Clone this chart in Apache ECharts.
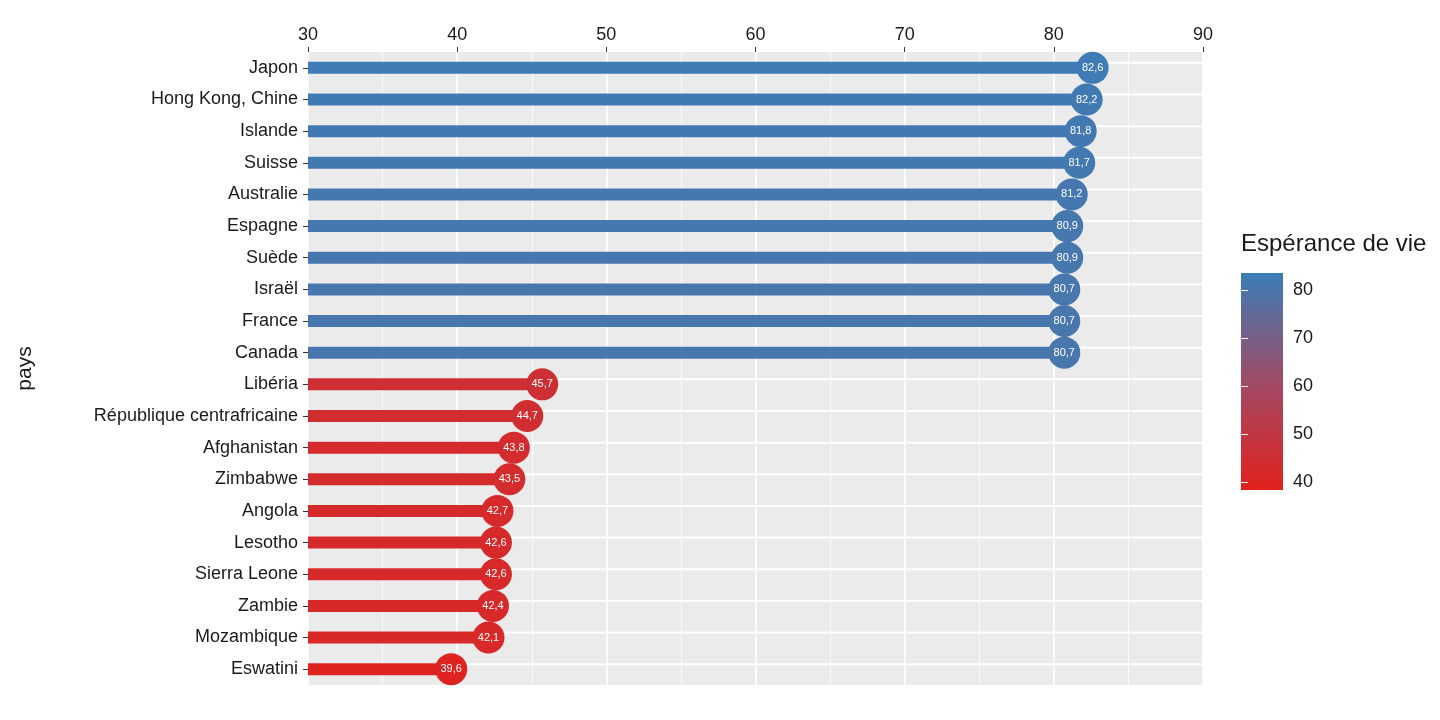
<!DOCTYPE html>
<html><head><meta charset="utf-8">
<script src="https://cdn.jsdelivr.net/npm/echarts@6/dist/echarts.min.js"></script>
<style>html,body{margin:0;background:#fff}#c{width:1440px;height:720px}</style>
</head><body><div id="c"></div>
<script>
var pays = ['Japon', 'Hong Kong, Chine', 'Islande', 'Suisse', 'Australie', 'Espagne', 'Suède', 'Israël', 'France', 'Canada',
  'Libéria', 'République centrafricaine', 'Afghanistan', 'Zimbabwe', 'Angola', 'Lesotho', 'Sierra Leone', 'Zambie', 'Mozambique', 'Eswatini'];
var esperance = [82.6, 82.2, 81.8, 81.7, 81.2, 80.9, 80.9, 80.7, 80.7, 80.7,
  45.7, 44.7, 43.8, 43.5, 42.7, 42.6, 42.6, 42.4, 42.1, 39.6];
var legendTicks = [40, 50, 60, 70, 80];
var colors = ['#E3211C', '#A04B66', '#3B7DB8'];

function fmt(v) { return v.toFixed(1).replace('.', ','); }
var font = 'Liberation Sans, Arial, sans-serif';

echarts.init(document.getElementById('c')).setOption({
  animation: false,
  textStyle: { fontFamily: font },
  grid: [
    { left: 308, right: 237, top: 52, bottom: 35, show: true, backgroundColor: '#EBEBEB', borderWidth: 0 },
    { left: 1241, top: 273, width: 42, height: 217, show: false }
  ],
  xAxis: [{
    type: 'value', position: 'top', min: 30, max: 90, interval: 10,
    axisLine: { show: false },
    axisTick: { show: true, length: 5, lineStyle: { color: '#333' } },
    axisLabel: { fontSize: 18, color: '#1a1a1a', margin: 8 },
    splitLine: { lineStyle: { color: '#fff', width: 1.6 } },
    minorTick: { show: false, splitNumber: 2 },
    minorSplitLine: { show: true, lineStyle: { color: '#fff', width: 0.8 } }
  }, {
    gridIndex: 1, type: 'value', min: 0, max: 1, show: false
  }],
  yAxis: [{
    type: 'category', data: pays, inverse: true,
    name: 'pays', nameLocation: 'middle', nameGap: 272, nameRotate: 90,
    nameTextStyle: { fontSize: 21, color: '#1a1a1a' },
    axisLine: { show: false },
    axisTick: { show: true, alignWithLabel: true, length: 5, lineStyle: { color: '#333' } },
    axisLabel: { fontSize: 18, color: '#1a1a1a', margin: 10 }
  }, {
    gridIndex: 1, type: 'value', position: 'right', min: 38.3, max: 83.5,
    axisLine: { show: false }, splitLine: { show: false },
    axisTick: { show: true, inside: true, length: 7, lineStyle: { color: '#fff' }, customValues: legendTicks },
    axisLabel: { fontSize: 18, color: '#1a1a1a', margin: 10, customValues: legendTicks }
  }, {
    gridIndex: 1, type: 'value', position: 'left', min: 38.3, max: 83.5,
    axisLine: { show: false }, splitLine: { show: false },
    axisTick: { show: true, inside: true, length: 7, lineStyle: { color: '#fff' }, customValues: legendTicks },
    axisLabel: { show: false }
  }],
  visualMap: {
    show: false, type: 'continuous', min: 38.3, max: 83.5, dimension: 0, seriesIndex: [1, 2],
    inRange: { color: colors }
  },
  graphic: [
    { type: 'text', left: 1241, top: 232, style: { text: 'Espérance de vie', fontSize: 24, fill: '#1a1a1a', fontFamily: font } },
    { type: 'rect', left: 1241, top: 273, z: 0, shape: { width: 42, height: 217 },
      style: { fill: new echarts.graphic.LinearGradient(0, 0, 0, 1, [
        { offset: 0, color: colors[2] }, { offset: 0.5, color: colors[1] }, { offset: 1, color: colors[0] }]) } }
  ],
  series: [{
    type: 'bar', data: pays.map(function () { return 90; }), barWidth: 2, barGap: '-100%',
    itemStyle: { color: '#fff' }, silent: true, z: 1
  }, {
    type: 'bar', data: esperance, barWidth: 12, barGap: '-100%', z: 2
  }, {
    type: 'scatter', data: esperance.map(function (v, i) { return [v, i]; }),
    symbolSize: 32, z: 3, itemStyle: { opacity: 1 },
    label: { show: true, position: 'inside', color: '#fff', fontSize: 11,
      formatter: function (p) { return fmt(p.value[0]); } }
  }]
});
</script></body></html>
